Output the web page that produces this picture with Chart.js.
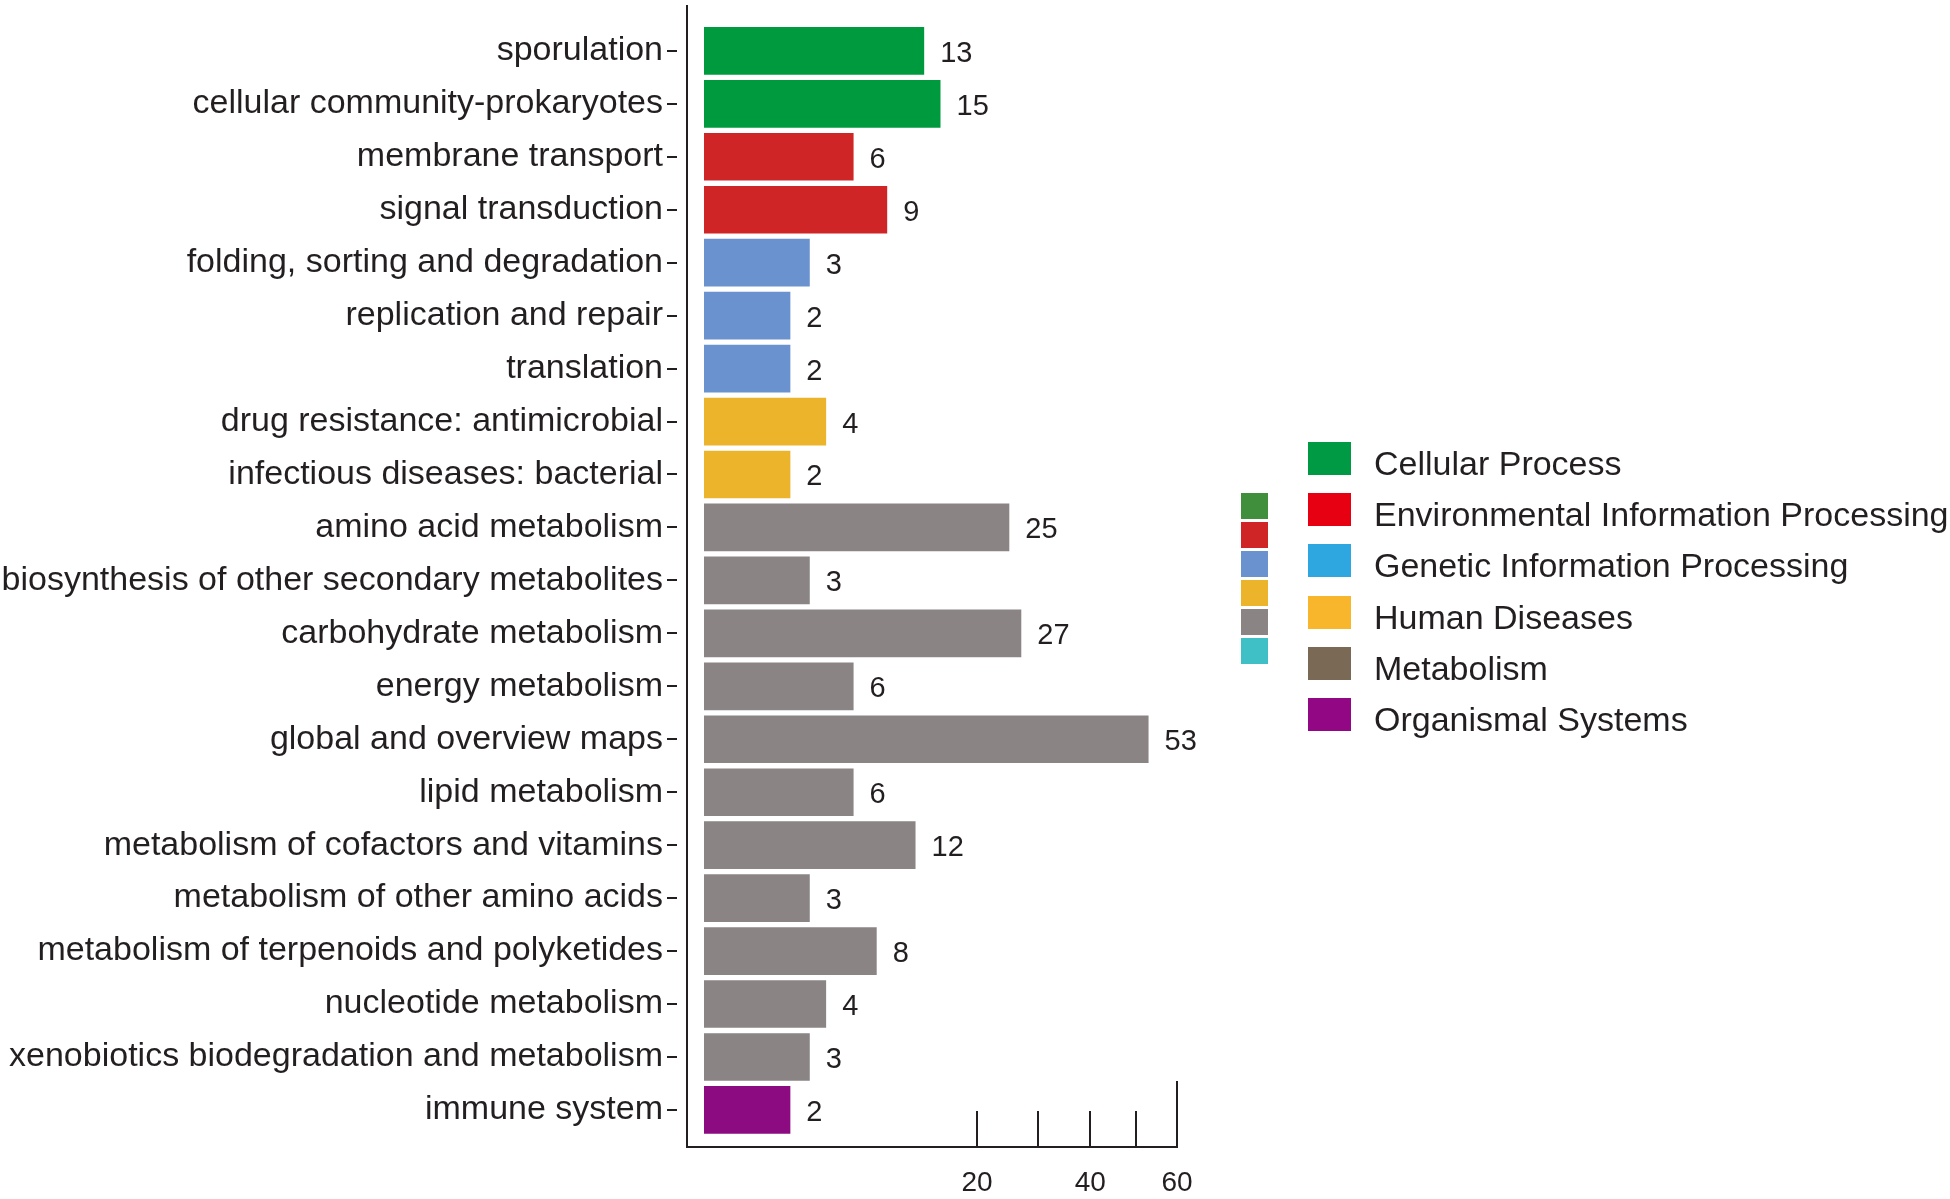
<!DOCTYPE html>
<html>
<head>
<meta charset="utf-8">
<script src="https://cdn.jsdelivr.net/npm/chart.js@4.4.1/dist/chart.umd.min.js"></script>
<style>
  body { margin: 0; background: #fff; }
  .wrap { position: relative; width: 1950px; height: 1199px; }
  .legend-item { position: absolute; left: 1308px; height: 33px; }
  .legend-box { position: absolute; left: 0; top: 0; width: 43px; height: 33px; }
  .legend-text {
    position: absolute; left: 66px; top: 2px; line-height: 33px; white-space: nowrap;
    font: 34px 'Liberation Sans', Arial, sans-serif; color: #231f20;
  }
  .strip-box { position: absolute; left: 1241px; width: 27px; height: 26px; }
</style>
</head>
<body>
<div class="wrap">
  <canvas id="keggChart" width="1950" height="1199"></canvas>
  <div id="legend"></div>
</div>
<script>
const categories = [
  'sporulation', 'cellular community-prokaryotes', 'membrane transport', 'signal transduction',
  'folding, sorting and degradation', 'replication and repair', 'translation',
  'drug resistance: antimicrobial', 'infectious diseases: bacterial', 'amino acid metabolism',
  'biosynthesis of other secondary metabolites', 'carbohydrate metabolism', 'energy metabolism',
  'global and overview maps', 'lipid metabolism', 'metabolism of cofactors and vitamins',
  'metabolism of other amino acids', 'metabolism of terpenoids and polyketides',
  'nucleotide metabolism', 'xenobiotics biodegradation and metabolism', 'immune system',
]
const geneCounts = [13, 15, 6, 9, 3, 2, 2, 4, 2, 25, 3, 27, 6, 53, 6, 12, 3, 8, 4, 3, 2]
const groupOf = [0, 0, 1, 1, 2, 2, 2, 3, 3, 4, 4, 4, 4, 4, 4, 4, 4, 4, 4, 4, 5]
const barColors = ['#009a3e', '#d02526', '#6a92cf', '#ebb42a', '#8b8485', '#8d0b80']

const legendLabels = [
  'Cellular Process', 'Environmental Information Processing', 'Genetic Information Processing',
  'Human Diseases', 'Metabolism', 'Organismal Systems',
]
const legendColors = ['#009944', '#e60012', '#2ea7e0', '#f8b62d', '#7a6a55', '#920783']
const stripColors = ['#3f8f3c', '#d02526', '#6a92cf', '#ebb42a', '#8b8485', '#3fbfc6']

const xTicks = [20, 30, 40, 50, 60]
const xTickLabels = [20, 40, 60]

const FONT = "'Liberation Sans', Arial, sans-serif"
const INK = '#231f20'

// square-root axis: bars grow with sqrt(value), starting a bit right of the axis line
class SqrtScale extends Chart.LinearScale {
  getPixelForValue(value) {
    const pad = 17
    const v = Math.max(+value || 0, 0)
    return this.left + pad + (this.width - pad) * Math.sqrt(v / this.max)
  }
  getValueForPixel(pixel) {
    const pad = 17
    const d = (pixel - this.left - pad) / (this.width - pad)
    return d * d * this.max
  }
}
SqrtScale.id = 'sqrt'
SqrtScale.defaults = Chart.LinearScale.defaults
Chart.register(SqrtScale)

const valueLabels = {
  id: 'valueLabels',
  afterDatasetsDraw(chart) {
    const { ctx } = chart
    const meta = chart.getDatasetMeta(0)
    ctx.save()
    ctx.font = '29px ' + FONT
    ctx.fillStyle = INK
    ctx.textAlign = 'left'
    ctx.textBaseline = 'middle'
    meta.data.forEach((bar, i) => {
      ctx.fillText(geneCounts[i], bar.x + 16, bar.y + 3)
    })
    ctx.restore()
  },
}

// taller stroke at the right end of the x axis, left axis runs up past the bars
const axisFrame = {
  id: 'axisFrame',
  afterDraw(chart) {
    const { ctx, chartArea, scales: { x } } = chart
    const px = Math.round(x.getPixelForValue(x.max))
    ctx.save()
    ctx.strokeStyle = INK
    ctx.lineWidth = 2
    ctx.beginPath()
    ctx.moveTo(px, x.top - 66)
    ctx.lineTo(px, x.top)
    ctx.moveTo(chartArea.left, 5)
    ctx.lineTo(chartArea.left, chartArea.top)
    ctx.stroke()
    ctx.restore()
  },
}

new Chart(document.getElementById('keggChart'), {
  type: 'bar',
  data: {
    labels: categories,
    datasets: [
      {
        label: 'Genes',
        data: geneCounts,
        backgroundColor: groupOf.map(g => barColors[g]),
        borderWidth: 0,
        barPercentage: 0.9,
        categoryPercentage: 1,
      },
    ],
  },
  options: {
    indexAxis: 'y',
    responsive: false,
    animation: false,
    devicePixelRatio: 1,
    layout: { padding: { top: 19, right: 773, bottom: 0, left: 0 } },
    plugins: {
      legend: { display: false },
      tooltip: { enabled: false },
    },
    scales: {
      x: {
        type: 'sqrt',
        position: 'bottom',
        min: 0,
        max: 60,
        afterBuildTicks: s => {
          s.ticks = xTicks.map(v => ({ value: v }))
        },
        afterFit: s => {
          s.height = 52
        },
        grid: { drawOnChartArea: false, drawTicks: true, tickLength: -36, color: INK, lineWidth: 2 },
        border: { display: true, color: INK, width: 2 },
        ticks: {
          autoSkip: false,
          maxRotation: 0,
          padding: 55,
          color: INK,
          font: { family: FONT, size: 28 },
          callback: v => (xTickLabels.includes(v) ? v : ''),
        },
      },
      y: {
        type: 'category',
        position: 'left',
        afterBuildTicks: s => {
          // leave a little gap between the last bar and the x axis
          s._valueRange += 0.2
        },
        afterFit: s => {
          s.width = 687
        },
        grid: {
          offset: false,
          drawOnChartArea: false,
          drawTicks: true,
          tickLength: 20,
          tickBorderDash: [10, 10],
          color: INK,
          lineWidth: 2,
        },
        border: { display: true, color: INK, width: 2 },
        ticks: {
          autoSkip: false,
          padding: 4,
          color: INK,
          font: { family: FONT, size: 34 },
        },
      },
    },
  },
  plugins: [valueLabels, axisFrame],
})

// ========================= //

const legend = document.getElementById('legend')
legendLabels.forEach((name, i) => {
  const item = document.createElement('div')
  item.className = 'legend-item'
  item.style.top = 442 + i * 51.2 + 'px'
  const box = document.createElement('div')
  box.className = 'legend-box'
  box.style.background = legendColors[i]
  const text = document.createElement('div')
  text.className = 'legend-text'
  text.textContent = name
  item.append(box, text)
  legend.append(item)
})
stripColors.forEach((c, i) => {
  const box = document.createElement('div')
  box.className = 'strip-box'
  box.style.top = 493 + i * 28.9 + 'px'
  box.style.background = c
  legend.append(box)
})
</script>
</body>
</html>
